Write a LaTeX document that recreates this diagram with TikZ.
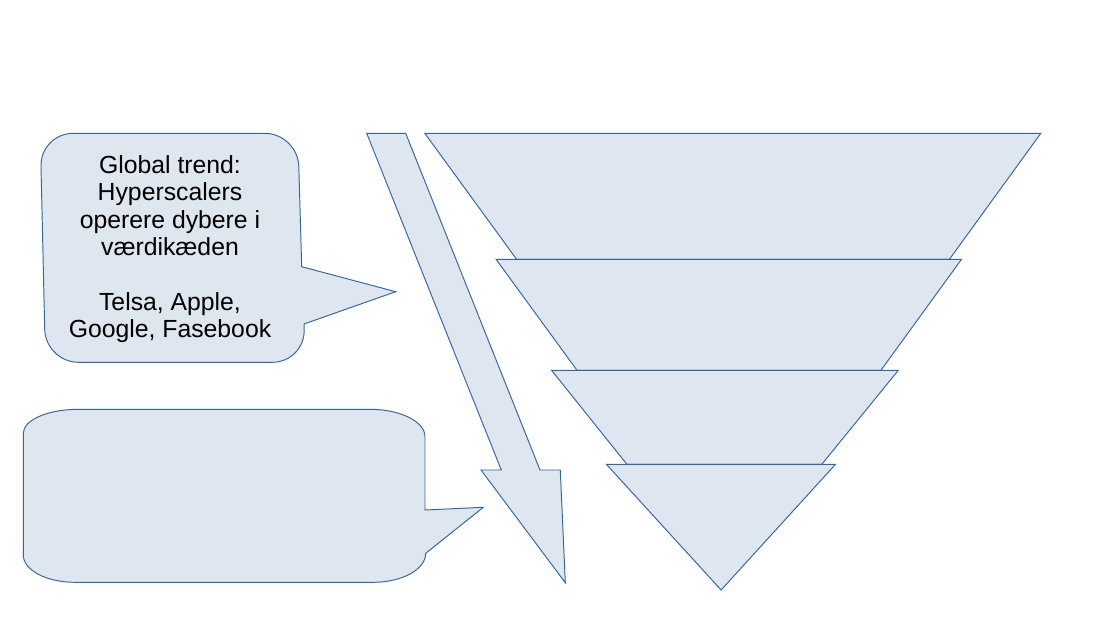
\documentclass[tikz,border=0pt]{standalone}
\usepackage{fontspec}
\setmainfont{Liberation Sans}
\usepackage{xcolor}
\usetikzlibrary{positioning}
\definecolor{shapefill}{HTML}{DEE6EF}
\definecolor{shapeline}{HTML}{3465A4}
\tikzset{
  blueshape/.style={draw=shapeline,fill=shapefill,line width=0.55pt,
                    line join=miter},
  bubbletext/.style={align=center,inner sep=0pt,
                     font=\fontsize{14.1}{15.6}\selectfont}
}

\begin{document}
\begin{tikzpicture}[x=0.02cm,y=-0.02cm]
    \path[use as bounding box] (0,0) rectangle (1102,620);

    % callout with the trend text
    \draw[blueshape] (73.2,133.3) -- (264.7,133.3)
      .. controls (282.9,133.3) and (298.2,148.1) .. (298.8,166.3)
      -- (301.7,266.7) -- (395.7,291.7) -- (304,324) -- (304.2,329.3)
      .. controls (304.8,347.5) and (290.5,362.3) .. (272.3,362.3)
      -- (78.5,362.3)
      .. controls (60.3,362.3) and (45.2,347.5) .. (44.7,329.3)
      -- (41,166.3)
      .. controls (40.5,148.1) and (55,133.3) .. (73.2,133.3) -- cycle;
    \node[bubbletext] (trend) at (170,249.3)
      {Global trend:\\Hyperscalers\\operere dybere i\\værdikæden\\[15.6pt]
       Telsa, Apple,\\Google, Fasebook};

    % empty callout
    \draw[blueshape] (78.3,409.3) -- (370,409.3)
      .. controls (400.4,409.3) and (425,421.6) .. (425,436.7)
      -- (425,510) -- (483.3,507.3) -- (425.7,553.3)
      .. controls (425.7,569.3) and (402.2,582.3) .. (373.3,582.3)
      -- (75,582.3)
      .. controls (46.4,582.3) and (23.3,570.1) .. (23.3,555)
      -- (23.3,433.3)
      .. controls (23.3,420) and (47.9,409.3) .. (78.3,409.3) -- cycle;

    % long arrow
    \draw[blueshape] (366.7,133.3) -- (405.7,133.3) -- (540,470)
      -- (560.3,470) -- (565.3,582.7) -- (481,470) -- (501.3,470) -- cycle;

    % funnel layers
    \draw[blueshape] (424.8,133.3) -- (1040.8,133.3) -- (949.4,259.3)
      -- (516.6,259.3) -- cycle;
    \draw[blueshape] (496.1,259.3) -- (961.5,259.3) -- (880.9,370.3)
      -- (577,370.3) -- cycle;
    \draw[blueshape] (551.6,370.3) -- (898.3,370.3) -- (821.8,464.3)
      -- (626.9,464.3) -- cycle;
    \draw[blueshape] (606.4,464.3) -- (835.5,464.3) -- (721.1,590) -- cycle;
\end{tikzpicture}
\end{document}
